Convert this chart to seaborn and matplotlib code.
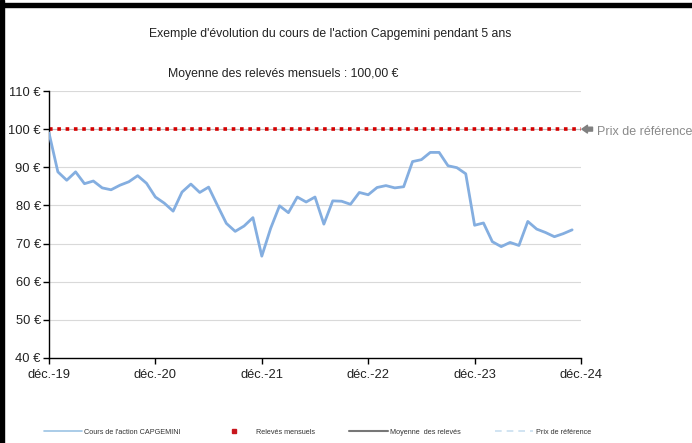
import matplotlib
matplotlib.use("Agg")
import matplotlib.pyplot as plt
from matplotlib.lines import Line2D
from matplotlib.patches import Rectangle
import seaborn as sns
import pandas as pd

# ---- data ----
title = "Exemple d'évolution du cours de l'action Capgemini pendant 5 ans"
subtitle = "Moyenne des relevés mensuels : 100,00 €"
tick_labels = ["déc.-19", "déc.-20", "déc.-21", "déc.-22", "déc.-23", "déc.-24"]
y_ticks = [40, 50, 60, 70, 80, 90, 100, 110]
price = [99.0, 88.8, 86.6, 88.8, 85.7, 86.4, 84.6, 84.1, 85.3, 86.2,
         87.8, 85.8, 82.2, 80.6, 78.5, 83.5, 85.6, 83.4, 84.8, 80.0,
         75.3, 73.2, 74.6, 76.8, 66.7, 74.0, 79.9, 78.1, 82.2, 80.9,
         82.2, 75.1, 81.2, 81.1, 80.3, 83.4, 82.8, 84.7, 85.2, 84.6,
         84.9, 91.5, 92.0, 93.9, 93.9, 90.4, 89.9, 88.3, 74.8, 75.4,
         70.5, 69.2, 70.3, 69.5, 75.8, 73.8, 72.9, 71.8, 72.6, 73.6]
reference_price = 100.0
legend_labels = ["Cours de l'action CAPGEMINI", "Relevés mensuels",
                 "Moyenne  des relevés", "Prix de référence"]
ref_label = "Prix de référence"

months = list(range(len(price)))
ref_months = list(range(len(price) + 1))
df = pd.DataFrame({"mois": months, "cours": price})
df_ref = pd.DataFrame({"mois": ref_months, "ref": [reference_price] * len(ref_months)})

sns.set_theme(style="white")
plt.rcParams["font.family"] = ["Liberation Sans", "DejaVu Sans"]

W, H = 692, 443
fig = plt.figure(figsize=(W / 100, H / 100), dpi=100)
ax = fig.add_axes([49 / W, 1 - 358 / H, (581 - 49) / W, (358 - 91) / H])

# grid
for v in y_ticks[1:]:
    ax.axhline(v, color="#d9d9d9", lw=0.8, zorder=0)

# mean line (under the dots)
sns.lineplot(data=df_ref, x="mois", y="ref", ax=ax, color="#bdbdbd", lw=0.8, zorder=1)
# red dotted monthly line
sns.lineplot(data=df_ref, x="mois", y="ref", ax=ax, color="#d40000", lw=2.6, zorder=2)
ax.lines[-1].set_linestyle((0, (1.0, 1.3)))
ax.lines[-1].set_dash_capstyle("butt")
# price line
sns.lineplot(data=df, x="mois", y="cours", ax=ax, color="#84aee0", lw=2.0, zorder=3)

ax.set_xlim(0, 60)
ax.set_ylim(40, 110)
ax.set_xticks([12 * i for i in range(len(tick_labels))])
ax.set_xticklabels(tick_labels, fontsize=9.3)
ax.set_yticks(y_ticks)
ax.set_yticklabels([f"{v} €" for v in y_ticks], fontsize=9.3)
ax.set_xlabel("")
ax.set_ylabel("")
for s in ["top", "right"]:
    ax.spines[s].set_visible(False)
for s in ["left", "bottom"]:
    ax.spines[s].set_color("black")
    ax.spines[s].set_linewidth(1.0)
ax.tick_params(axis="both", direction="out", length=4, width=1, color="black",
               colors="#222222", pad=2, bottom=True, left=True)
ax.tick_params(axis="x", pad=4)
if ax.get_legend():
    ax.get_legend().remove()

# titles
fig.text(330 / W, 1 - 34 / H, title, ha="center", va="center", fontsize=8.8, color="#222222")
fig.text(283 / W, 1 - 74 / H, subtitle, ha="center", va="center", fontsize=8.8, color="#222222")

# reference arrow + label
ax.annotate("", xy=(60.1, reference_price), xytext=(61.3, reference_price),
            xycoords="data", textcoords="data",
            arrowprops=dict(arrowstyle="simple,head_length=0.5,head_width=0.7,tail_width=0.35",
                            color="#808080", mutation_scale=8, shrinkA=0, shrinkB=0),
            annotation_clip=False)
fig.text(597 / W, 1 - 132 / H, ref_label, ha="left", va="center", fontsize=9.0,
         color="#8a8a8a")

# legend
handles = [
    Line2D([], [], color="#9cc3e4", lw=1.2),
    Line2D([], [], color="#c8161d", lw=0, marker="s", markersize=3),
    Line2D([], [], color="#777777", lw=1.5),
    Line2D([], [], color="#c9dff0", lw=1.2, ls=(0, (4, 3))),
]
fig.legend(handles, legend_labels, loc="center left", bbox_to_anchor=(37 / W, 1 - 432 / H),
           ncol=4, frameon=False, fontsize=5.2, handlelength=5.3, handletextpad=0.3,
           columnspacing=4.8, labelcolor="#333333")

# frame borders
fig.add_artist(Rectangle((0, 0), 4 / W, 1, transform=fig.transFigure, color="black", zorder=10))
fig.add_artist(Rectangle((0, 1 - 7 / H), 1, 4 / H, transform=fig.transFigure, color="black", zorder=10))

fig.savefig("out.png", dpi=100)
